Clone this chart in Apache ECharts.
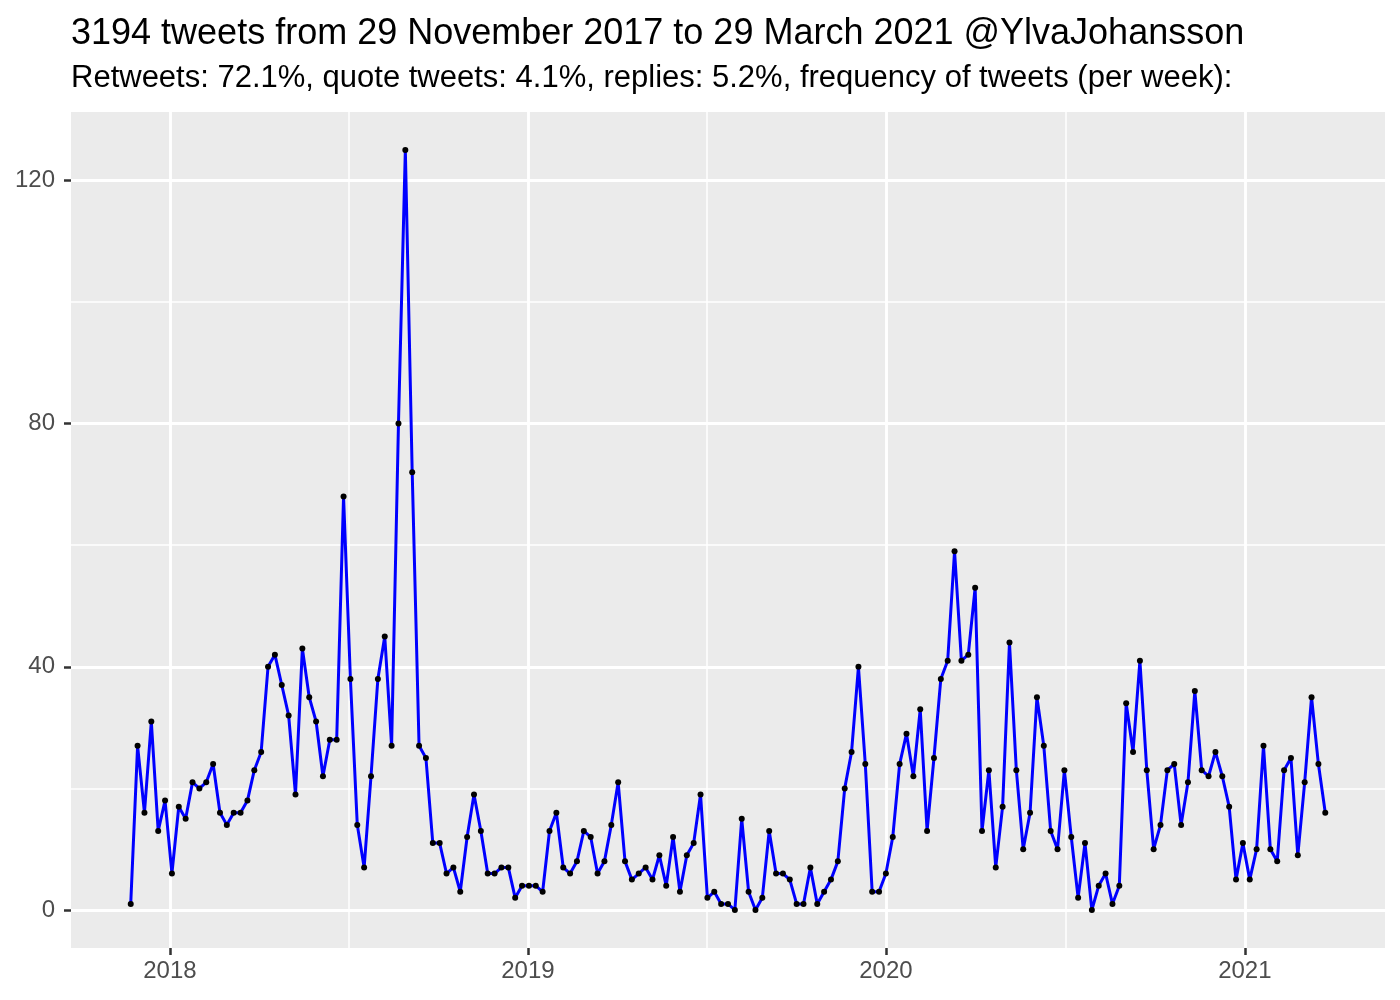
<!DOCTYPE html>
<html>
<head>
<meta charset="utf-8">
<script src="https://cdn.jsdelivr.net/npm/echarts@6/dist/echarts.min.js"></script>
<style>
html,body{margin:0;padding:0;background:#ffffff;}
#chart{width:1400px;height:1000px;}
</style>
</head>
<body>
<div id="chart"></div>
<script>
// ---- Data ----
const titleText = '3194 tweets from 29 November 2017 to 29 March 2021 @YlvaJohansson';
const subtitleText = 'Retweets: 72.1%, quote tweets: 4.1%, replies: 5.2%, frequency of tweets (per week):';
const firstWeek = [2017, 10, 22]; // UTC year, month (0-based), day of the first weekly bin
const tweetsPerWeek = [
  1, 27, 16, 31, 13, 18, 6, 17, 15, 21,
  20, 21, 24, 16, 14, 16, 16, 18, 23, 26,
  40, 42, 37, 32, 19, 43, 35, 31, 22, 28,
  28, 68, 38, 14, 7, 22, 38, 45, 27, 80,
  125, 72, 27, 25, 11, 11, 6, 7, 3, 12,
  19, 13, 6, 6, 7, 7, 2, 4, 4, 4,
  3, 13, 16, 7, 6, 8, 13, 12, 6, 8,
  14, 21, 8, 5, 6, 7, 5, 9, 4, 12,
  3, 9, 11, 19, 2, 3, 1, 1, 0, 15,
  3, 0, 2, 13, 6, 6, 5, 1, 1, 7,
  1, 3, 5, 8, 20, 26, 40, 24, 3, 3,
  6, 12, 24, 29, 22, 33, 13, 25, 38, 41,
  59, 41, 42, 53, 13, 23, 7, 17, 44, 23,
  10, 16, 35, 27, 13, 10, 23, 12, 2, 11,
  0, 4, 6, 1, 4, 34, 26, 41, 23, 10,
  14, 23, 24, 14, 21, 36, 23, 22, 26, 22,
  17, 5, 11, 5, 10, 27, 10, 8, 23, 25,
  9, 21, 35, 24, 16
];
const yTickValues = [0, 40, 80, 120];
const yMinorValues = [20, 60, 100];
const xTickYears = [2018, 2019, 2020, 2021];
const xMinorDates = ['2018-07-02T12:00:00Z', '2019-07-02T12:00:00Z', '2020-07-02T00:00:00Z'];

// ---- Build ----
const DAY = 86400000;
const t0 = Date.UTC(firstWeek[0], firstWeek[1], firstWeek[2]);
const seriesData = tweetsPerWeek.map((v, i) => [t0 + i * 7 * DAY, v]);
const tN = seriesData[seriesData.length - 1][0];
const xPad = 0.05 * (tN - t0);
const xMin = t0 - xPad, xMax = tN + xPad;
const yDataMax = Math.max(...tweetsPerWeek);
const yPad = 0.05 * yDataMax;
const yMin = -yPad, yMax = yDataMax + yPad;

const xTickValues = xTickYears.map(y => Date.UTC(y, 0, 1));
const xMinorValues = xMinorDates.map(d => Date.parse(d));

const FONT = 'Liberation Sans, Arial, Helvetica, sans-serif';
const hiddenLine = {show: true, onZero: false, lineStyle: {color: 'rgba(0,0,0,0)', width: 0}};
const chart = echarts.init(document.getElementById('chart'), null, {renderer: 'canvas'});
chart.setOption({
  animation: false,
  backgroundColor: '#ffffff',
  title: [
    {text: titleText, left: 71, top: 16, padding: 0,
     textStyle: {fontFamily: FONT, fontSize: 36, fontWeight: 'normal', color: '#000000'}},
    {text: subtitleText, left: 71, top: 63, padding: 0,
     textStyle: {fontFamily: FONT, fontSize: 31, fontWeight: 'normal', color: '#000000'}}
  ],
  grid: {left: 71, right: 15, top: 112, bottom: 52, show: true,
         backgroundColor: '#EBEBEB', borderWidth: 0, containLabel: false},
  xAxis: [
    {type: 'value', min: xMin, max: xMax, position: 'bottom',
     axisLine: hiddenLine,
     axisTick: {show: true, inside: false, length: 7, customValues: xTickValues,
                lineStyle: {color: '#333333', width: 2.5}},
     axisLabel: {show: true, customValues: xTickValues, margin: 11,
                 color: '#4D4D4D', fontFamily: FONT, fontSize: 24,
                 formatter: v => String(new Date(v).getUTCFullYear())},
     splitLine: {show: true, lineStyle: {color: '#FFFFFF', width: 2.9}}},
    {type: 'value', min: xMin, max: xMax, position: 'bottom',
     axisLine: {show: false, onZero: false},
     axisTick: {show: false, customValues: xMinorValues},
     axisLabel: {show: false, customValues: xMinorValues},
     splitLine: {show: true, lineStyle: {color: '#FFFFFF', width: 1.5}}}
  ],
  yAxis: [
    {type: 'value', min: yMin, max: yMax, position: 'left',
     axisLine: hiddenLine,
     axisTick: {show: true, inside: false, length: 7, customValues: yTickValues,
                lineStyle: {color: '#333333', width: 2.5}},
     axisLabel: {show: true, customValues: yTickValues, margin: 16,
                 color: '#4D4D4D', fontFamily: FONT, fontSize: 24},
     splitLine: {show: true, lineStyle: {color: '#FFFFFF', width: 2.9}}},
    {type: 'value', min: yMin, max: yMax, position: 'left', offset: 0,
     axisLine: {show: false, onZero: false},
     axisTick: {show: false, customValues: yMinorValues},
     axisLabel: {show: false, customValues: yMinorValues},
     splitLine: {show: true, lineStyle: {color: '#FFFFFF', width: 1.5}}}
  ],
  series: [{
    type: 'line',
    xAxisIndex: 0, yAxisIndex: 0,
    data: seriesData,
    showSymbol: true, showAllSymbol: true,
    symbol: 'circle', symbolSize: 6,
    itemStyle: {color: '#000000', borderWidth: 0},
    lineStyle: {color: '#0000FF', width: 3},
    emphasis: {disabled: true},
    z: 3
  }]
});
</script>
</body>
</html>
